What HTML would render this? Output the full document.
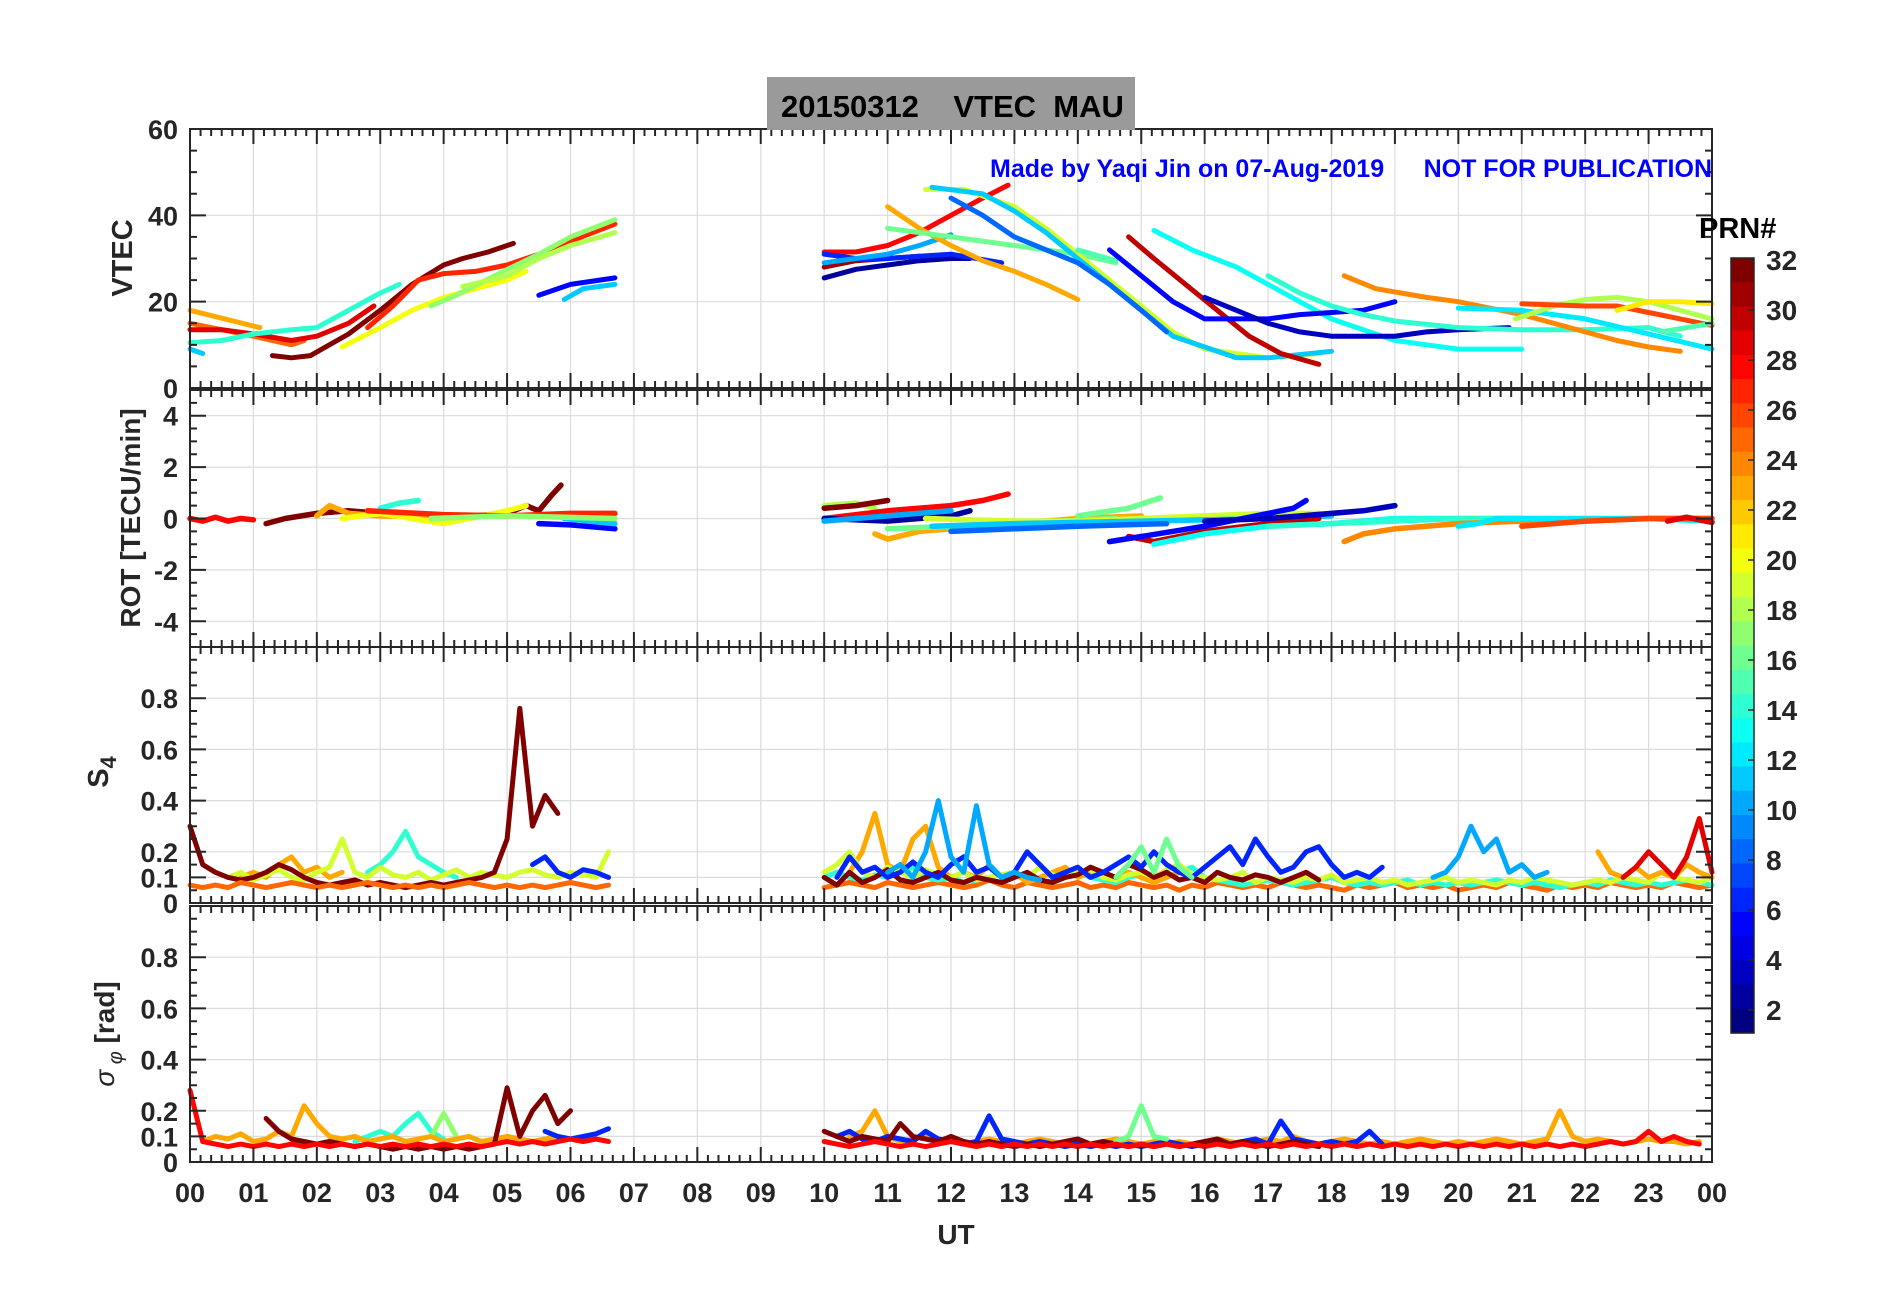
<!DOCTYPE html>
<html><head><meta charset="utf-8">
<style>
html,body{margin:0;padding:0;background:#fff;}
svg{display:block;font-family:"Liberation Sans",Arial,sans-serif;}
</style></head>
<body>
<svg id="fig" width="1902" height="1292" viewBox="0 0 1902 1292" xmlns="http://www.w3.org/2000/svg">
<rect width="1902" height="1292" fill="#fff"/>
<g id="grid"></g>
<g id="marks"></g>
<g id="axes"></g>
<rect x="767" y="77" width="368" height="53" fill="#9a9a9a"/>
<text x="781" y="117" font-size="31" font-weight="bold" fill="#000" xml:space="preserve">20150312    VTEC  MAU</text>
<text x="990" y="177" font-size="25" font-weight="bold" fill="#0000ff">Made by Yaqi Jin on 07-Aug-2019</text>
<text x="1712" y="177" font-size="25" font-weight="bold" fill="#0000ff" text-anchor="end">NOT FOR PUBLICATION</text>
<text transform="translate(132,258) rotate(-90)" font-size="29" font-weight="bold" fill="#262626" text-anchor="middle">VTEC</text>
<text transform="translate(140,518) rotate(-90)" font-size="28" font-weight="bold" fill="#262626" text-anchor="middle">ROT [TECU/min]</text>
<text transform="translate(108,772) rotate(-90)" font-size="29" font-weight="bold" fill="#262626" text-anchor="middle">S<tspan font-size="22" dy="8">4</tspan></text>
<text transform="translate(114,1034) rotate(-90)" font-size="28" font-weight="bold" fill="#262626" text-anchor="middle"><tspan font-style="italic" font-weight="normal">σ</tspan><tspan font-size="20" dy="8" font-style="italic" font-weight="normal"> φ</tspan><tspan dy="-8"> [rad]</tspan></text>
<text x="956" y="1244" font-size="28" font-weight="bold" fill="#262626" text-anchor="middle">UT</text>
<g id="cbar"></g>
<text x="1699" y="238" font-size="29" font-weight="bold" fill="#000">PRN#</text>
</svg>
<script>
// ---------------- data ----------------
const hourLabels = ["00","01","02","03","04","05","06","07","08","09","10","11","12","13","14","15","16","17","18","19","20","21","22","23","00"];
const vtecTicks = [0,20,40,60];
const rotTicks = [-4,-2,0,2,4];
const s4Ticks = [0,0.1,0.2,0.4,0.6,0.8];
const sigTicks = [0,0.1,0.2,0.4,0.6,0.8];
const cbarTicks = [2,4,6,8,10,12,14,16,18,20,22,24,26,28,30,32];

const vtecPrn = [23,25,29,14,11,32,27,20,17,18,5,11, 28,2,31,6,10,23,16,19,11,8,15,30,13,5,3,14,24,12,18,26,21,15];
const vtecHours = [
 [0,1.1],[0,0.5,1,1.6,1.8],[0,0.5,1,1.6,2,2.5,2.9],[0,0.5,1,1.6,2,2.5,3,3.3],[0,0.2],
 [1.3,1.6,1.9,2.5,3,3.5,4,4.3,4.7,5.1],[2.8,3.2,3.6,4,4.5,5,5.5,6,6.7],[2.4,3,3.5,4,4.5,5,5.3],
 [3.8,4.2,4.8,5.5,6,6.7],[4.3,5,5.5,6,6.7],[5.5,6,6.7],[5.9,6.2,6.7],
 [10,10.5,11,11.5,12,12.5,12.9],[10,10.5,11,11.5,12,12.3],[10,10.5,11,11.5],[10,10.5,11,11.5,12,12.8],
 [10,10.5,11,11.5,12],[11,11.5,12,12.5,13,13.5,14],[11,12,13,14,14.6],
 [11.6,12.2,13,13.5,14,14.5,15,15.5,16,17,17.8],[11.7,12.5,13,13.5,14,14.5,15,15.5,16.5,17,18],
 [12,12.5,13,14,14.5,15,15.4],[14,14.6],[14.8,15.2,15.7,16.2,16.7,17.2,17.8],
 [15.2,15.8,16.5,17,17.5,18,18.5,19,19.5,20,20.5,21],[14.5,15,15.5,16,16.5,17,17.5,18,18.5,19],
 [16,16.5,17,17.5,18,19,19.5,20,20.8],[17,17.5,18,18.5,19,20,21,22,23,23.5],
 [18.2,18.7,19.5,20,21,22,22.5,23,23.5],[20,21,22,23,24],[20.9,21.5,22,22.5,23,23.5,24],
 [21,22,22.5,23,23.5,24],[22.5,23,23.5,24],[23.2,24]
];
const vtecValues = [
 [18,14],[15,13.5,12,10,11],[13.5,13.5,12.5,11,12,15,19],[10.5,11,12.5,13.5,14,18,22,24],[9,8],
 [7.5,7,7.5,12.5,18,24,28.5,30,31.5,33.5],[14,19,25,26.5,27,28.5,31,34,38],[9.5,14,18,21,23,25,27],
 [19,21.5,26,31,35,39],[23.5,26,30,33,36],[21.5,24,25.5],[20.5,23,24],
 [31.5,31.5,33,36,40,44,47],[25.5,27.5,28.5,29.5,30,30],[28,29.5,30,30.5],[31,30,30,30.5,31,29],
 [29,30,31,33,35.5],[42,37,33,29.5,27,24,20.5],[37,35,33,31,29],
 [46,46,42,37,31,25,19,13,9,7,8],[46.5,45,41,36,30,24,18,12,7,7,8.5],
 [44,40,35,29,24,18,13],[32,29.5],[35,30,24,18,12,8,5.5],
 [36.5,32,28,24,20,16,13.5,11,10,9,9,9],[32,26,20,16,16,16,17,17.5,18,20],
 [21,18,15,13,12,12,13,13.5,14],[26,22,19,17,15.5,14,13.5,13.5,14,12],
 [26,23,21,20,17,13,11,9.5,8.5],[18.5,18,16,12.5,9],[16,19,20.5,21,20,18,16],
 [19.5,19,19,17.5,16,14.5],[18,20,20,19.5],[13,15]
];

const rotPrn = [28,32,23,14,20,27,5,11,17, 18,32,28,2,10,23,16,19,11,8,16,30,5,13,3,14,24,12,26,29];
const rotHours = [
 [0,0.2,0.4,0.6,0.8,1.0],[1.2,1.5,2,2.5,3,3.5,4,4.5,5,5.3,5.5,5.7,5.85],[2.0,2.2,2.5,3,4,5,6,6.7],
 [3,3.3,3.6],[2.4,3,4,5,5.3],[2.8,4,5,6,6.7],[5.5,6,6.7],[5.9,6.3,6.7],[3.8,5,6.7],
 [10,10.5,10.8],[10,10.5,11],[10,11,12,12.5,12.9],[10,11,12,12.3],[10,11,12],
 [10.8,11,11.5,12,13,14,15],[11,13,14.6],[11.6,13,14,15,16,17,17.8],[11.7,13,15,17,18],
 [12,13,14,15.4],[14,14.8,15.3],[14.8,15.2,16,17,17.8],[14.5,15,16,17,17.4,17.6],
 [15.2,16,17,18,19,20,21],[16,17,18,18.5,19],[17,18,19,20,21],[18.2,18.5,19,20,21,22,23,24],
 [20,20.3,20.6,21,22,23,24],[21,21.5,22,23,24],[23.3,23.6,24]
];
const rotValues = [
 [0,-0.1,0.05,-0.1,0,-0.05],[-0.2,0,0.2,0.3,0.2,0.15,0.1,0.1,0.2,0.5,0.3,0.9,1.3],[0.1,0.5,0.2,0.1,0.05,0.1,0.15,0.2],
 [0.4,0.6,0.7],[0,0.2,-0.2,0.3,0.5],[0.3,0.15,0.1,0.2,0.2],[-0.2,-0.25,-0.4],[0,-0.1,-0.2],[0,0.1,0],
 [0.5,0.6,0.4],[0.4,0.5,0.7],[0,0.3,0.5,0.7,0.95],[0,-0.1,0.1,0.3],[-0.1,0.1,0.3],
 [-0.6,-0.8,-0.5,-0.4,-0.2,0,0.1],[-0.4,-0.2,0],[0,-0.1,-0.1,0,0.1,0.2,0.2],[-0.3,-0.2,-0.1,0,0.1],
 [-0.5,-0.4,-0.3,-0.2],[0.1,0.4,0.8],[-0.7,-0.9,-0.5,-0.2,0],[-0.9,-0.7,-0.3,0.2,0.4,0.7],
 [-1,-0.6,-0.3,-0.2,0,0,0],[-0.1,0,0.2,0.3,0.5],[-0.3,-0.2,-0.1,0,0],[-0.9,-0.6,-0.4,-0.2,-0.1,-0.1,0,0],
 [-0.3,-0.2,0,0,0,0,-0.1],[-0.3,-0.2,-0.1,0,0],[-0.1,0.05,-0.15]
];

// S4: series sampled every 0.2 h from a start hour
const s4Prn = [14,23,19,32,6,25,14,23,19,32,6,10,10,16,23,29];
const s4Start = [2.8,0.8,0.6,0,5.4,0,10,10.4,10,10,10.2,11,19.6,14.6,22.2,22.6];
const s4Values = [
 [0.12,0.15,0.2,0.28,0.18,0.15,0.12,0.1],
 [0.1,0.12,0.1,0.15,0.18,0.12,0.14,0.1,0.12],
 [0.1,0.12,0.09,0.11,0.13,0.1,0.09,0.12,0.14,0.25,0.12,0.1,0.14,0.11,0.1,0.12,0.09,0.11,0.13,0.1,0.12,0.11,0.1,0.12,0.13,0.11,0.1,0.12,0.11,0.1,0.2],
 [0.3,0.15,0.12,0.1,0.09,0.1,0.12,0.15,0.13,0.1,0.08,0.07,0.08,0.09,0.07,0.08,0.07,0.06,0.07,0.08,0.07,0.08,0.09,0.1,0.12,0.25,0.76,0.3,0.42,0.35],
 [0.15,0.18,0.12,0.1,0.13,0.12,0.1],
 [0.07,0.06,0.07,0.06,0.08,0.07,0.06,0.07,0.08,0.07,0.06,0.07,0.06,0.07,0.08,0.07,0.06,0.07,0.06,0.07,0.06,0.07,0.08,0.07,0.06,0.07,0.06,0.07,0.06,0.07,0.08,0.07,0.06,0.07],
 [0.1,0.12,0.1,0.09,0.11,0.1,0.12,0.14,0.1,0.09,0.1,0.08,0.09,0.1,0.11,0.12,0.1,0.09,0.08,0.1,0.12,0.1,0.09,0.08,0.1,0.11,0.09,0.1,0.12,0.14,0.1,0.09,0.08,0.07,0.08,0.09,0.08,0.07,0.08,0.09,0.1,0.08,0.07,0.08,0.07,0.08,0.09,0.07,0.08,0.07,0.08,0.07,0.08,0.09,0.08,0.07,0.08,0.07,0.06,0.07,0.08,0.07,0.09,0.08,0.07,0.08,0.07,0.08,0.09,0.08,0.07],
 [0.12,0.2,0.35,0.15,0.12,0.25,0.3,0.14,0.1,0.12,0.1,0.15,0.1,0.12,0.08,0.1,0.12,0.14,0.1,0.12,0.1,0.09,0.12,0.1,0.08,0.1,0.12,0.1],
 [0.12,0.15,0.2,0.12,0.1,0.14,0.12,0.1,0.13,0.11,0.1,0.12,0.09,0.1,0.11,0.12,0.1,0.14,0.11,0.1,0.12,0.13,0.1,0.09,0.11,0.12,0.1,0.13,0.15,0.11,0.1,0.09,0.1,0.12,0.08,0.1,0.09,0.08,0.1,0.09,0.11,0.08,0.09,0.1,0.08,0.09,0.07,0.08,0.09,0.1,0.08,0.09,0.08,0.07,0.09,0.08,0.1,0.09,0.08,0.07,0.08,0.09,0.08,0.1,0.09,0.08,0.12,0.1,0.09,0.08,0.1],
 [0.1,0.07,0.12,0.08,0.1,0.13,0.09,0.08,0.1,0.12,0.09,0.08,0.1,0.09,0.08,0.1,0.12,0.09,0.08,0.1,0.11,0.14,0.12,0.1,0.15,0.13,0.1,0.12,0.09,0.1,0.08,0.12,0.1,0.09,0.11,0.1,0.08,0.1,0.12,0.09],
 [0.1,0.18,0.12,0.14,0.1,0.12,0.16,0.12,0.1,0.15,0.18,0.12,0.14,0.1,0.12,0.2,0.15,0.1,0.12,0.14,0.1,0.12,0.15,0.18,0.14,0.2,0.15,0.12,0.1,0.14,0.18,0.22,0.15,0.25,0.18,0.12,0.14,0.2,0.22,0.15,0.1,0.12,0.1,0.14],
 [0.12,0.15,0.1,0.2,0.4,0.18,0.12,0.38,0.15,0.1,0.12,0.1,0.09],
 [0.1,0.12,0.18,0.3,0.2,0.25,0.12,0.15,0.1,0.12],
 [0.1,0.15,0.22,0.12,0.25,0.14,0.1],
 [0.2,0.12,0.1,0.14,0.1,0.12,0.1,0.15,0.12,0.1],
 [0.1,0.14,0.2,0.15,0.1,0.18,0.33,0.12]
];
const s4BasePrn = [25];
const s4BaseStart = [10];
const s4BaseValues = [
 [0.06,0.07,0.08,0.07,0.06,0.08,0.07,0.06,0.07,0.08,0.07,0.06,0.07,0.09,0.07,0.06,0.08,0.07,0.06,0.07,0.08,0.06,0.07,0.06,0.08,0.07,0.06,0.07,0.05,0.07,0.06,0.08,0.07,0.06,0.07,0.06,0.08,0.07,0.06,0.07,0.06,0.05,0.07,0.06,0.07,0.08,0.06,0.07,0.06,0.07,0.05,0.06,0.07,0.06,0.08,0.07,0.06,0.05,0.07,0.06,0.07,0.06,0.08,0.07,0.06,0.07,0.06,0.08,0.07,0.06,0.07]
];

const sigPrn = [14,17,23,6,32,28,23,6,32,16,28];
const sigStart = [2.6,3.8,0.2,5.6,1.2,0,10.4,10.2,10,14.6,10];
const sigValues = [
 [0.08,0.1,0.12,0.1,0.15,0.19,0.12,0.09],
 [0.1,0.19,0.1],
 [0.08,0.1,0.09,0.11,0.08,0.09,0.12,0.1,0.22,0.15,0.1,0.09,0.1,0.08,0.09,0.1,0.08,0.09,0.1,0.08,0.09,0.1,0.08,0.09,0.1,0.09,0.08,0.09,0.1,0.09,0.08,0.09],
 [0.12,0.1,0.09,0.1,0.11,0.13],
 [0.17,0.12,0.09,0.08,0.07,0.08,0.07,0.06,0.07,0.06,0.05,0.06,0.05,0.06,0.05,0.06,0.05,0.06,0.07,0.29,0.1,0.2,0.26,0.15,0.2],
 [0.28,0.08,0.07,0.06,0.07,0.06,0.07,0.06,0.07,0.06,0.07,0.06,0.07,0.06,0.07,0.06,0.07,0.06,0.07,0.06,0.07,0.06,0.07,0.06,0.07,0.08,0.07,0.08,0.07,0.08,0.09,0.08,0.09,0.08],
 [0.1,0.12,0.2,0.1,0.08,0.09,0.1,0.08,0.09,0.07,0.08,0.09,0.08,0.07,0.08,0.09,0.08,0.07,0.08,0.07,0.08,0.09,0.08,0.07,0.08,0.07,0.08,0.07,0.08,0.09,0.08,0.07,0.08,0.09,0.08,0.1,0.08,0.07,0.08,0.09,0.08,0.07,0.08,0.07,0.08,0.09,0.08,0.07,0.08,0.07,0.08,0.09,0.08,0.07,0.08,0.09,0.2,0.1,0.08,0.09,0.08,0.07,0.08,0.09,0.08,0.08,0.07,0.08],
 [0.1,0.12,0.09,0.08,0.1,0.09,0.08,0.12,0.09,0.08,0.07,0.08,0.18,0.09,0.08,0.07,0.08,0.07,0.06,0.07,0.06,0.07,0.06,0.07,0.06,0.07,0.08,0.07,0.06,0.07,0.08,0.07,0.08,0.09,0.07,0.16,0.09,0.08,0.07,0.08,0.07,0.08,0.12,0.07],
 [0.12,0.1,0.08,0.1,0.09,0.08,0.15,0.1,0.09,0.08,0.1,0.08,0.07,0.08,0.07,0.06,0.07,0.06,0.07,0.08,0.09,0.07,0.08,0.07,0.06,0.07,0.06,0.07,0.06,0.07,0.08,0.09,0.07,0.08,0.07,0.06,0.07,0.08,0.07,0.06],
 [0.08,0.1,0.22,0.1,0.09],
 [0.08,0.07,0.06,0.07,0.08,0.07,0.06,0.07,0.06,0.07,0.08,0.07,0.06,0.07,0.06,0.07,0.06,0.07,0.06,0.07,0.06,0.07,0.06,0.07,0.06,0.07,0.06,0.07,0.06,0.07,0.06,0.07,0.06,0.07,0.06,0.07,0.06,0.07,0.06,0.07,0.06,0.07,0.06,0.07,0.06,0.07,0.06,0.07,0.06,0.07,0.06,0.07,0.06,0.07,0.06,0.07,0.06,0.07,0.06,0.07,0.06,0.07,0.08,0.07,0.08,0.12,0.08,0.1,0.08,0.07]
];

// ---------------- layout ----------------
const NS = "http://www.w3.org/2000/svg";
const X0 = 190, X1 = 1712;
const panels = [
 {key:"vtec", top:129, bottom:388, min:0, max:60, minor:5, ticks:vtecTicks},
 {key:"rot", top:390, bottom:647, min:-5, max:5, minor:0.5, ticks:rotTicks},
 {key:"s4", top:647, bottom:903, min:0, max:1, minor:0.05, ticks:s4Ticks},
 {key:"sigma", top:906, bottom:1162, min:0, max:1, minor:0.05, ticks:sigTicks}
];
function xScale(h){ return X0 + (X1 - X0) * h / 24; }
function yScale(p, v){ return p.bottom - (v - p.min) / (p.max - p.min) * (p.bottom - p.top); }
function jet(prn){
  const t = (prn - 1) / 31;
  const c = v => Math.round(255 * Math.max(0, Math.min(1, v)));
  return "rgb(" + c(1.5 - Math.abs(4*t - 3)) + "," + c(1.5 - Math.abs(4*t - 2)) + "," + c(1.5 - Math.abs(4*t - 1)) + ")";
}
function mk(tag, attrs, parent){
  const e = document.createElementNS(NS, tag);
  for (const k in attrs) e.setAttribute(k, attrs[k]);
  parent.appendChild(e);
  return e;
}
const gGrid = document.getElementById("grid");
const gMarks = document.getElementById("marks");
const gAxes = document.getElementById("axes");
const gCbar = document.getElementById("cbar");

panels.forEach(p => {
  for (let h = 1; h < 24; h++) {
    const l = mk("line", {x1:xScale(h), x2:xScale(h), y1:p.top, y2:p.bottom, stroke:"#dcdcdc", "stroke-width":1.2}, gGrid);
    
    
  }
  p.ticks.forEach(v => {
    if (v === p.min || v === p.max) return;
    const l = mk("line", {x1:X0, x2:X1, y1:yScale(p,v), y2:yScale(p,v), stroke:"#dcdcdc", "stroke-width":1.2}, gGrid);
    
    
  });
  const frame = mk("rect", {x:X0, y:p.top, width:X1-X0, height:p.bottom-p.top, fill:"none", stroke:"#262626", "stroke-width":2}, gAxes);
  
  
  let d = "";
  for (let m = 0; m <= 24*6; m++) {
    const x = xScale(m/6), len = (m % 6 === 0) ? 15 : 7;
    d += "M" + x + " " + p.bottom + "v" + (-len) + "M" + x + " " + p.top + "v" + len;
  }
  const nMinor = Math.round((p.max - p.min) / p.minor);
  for (let i = 0; i <= nMinor; i++) {
    const v = p.min + i * p.minor;
    const major = p.ticks.some(t => Math.abs(t - v) < 1e-9);
    const y = yScale(p, v), len = major ? 16 : 7;
    d += "M" + X0 + " " + y + "h" + len + "M" + X1 + " " + y + "h" + (-len);
  }
  const tk = mk("path", {d:d, stroke:"#262626", "stroke-width":2, fill:"none"}, gAxes);
  
  
  p.ticks.forEach(v => {
    const t = mk("text", {x:178, y:yScale(p,v)+10, "font-size":27, "font-weight":"bold", fill:"#262626", "text-anchor":"end"}, gAxes);
    t.textContent = String(v);
    
    
  });
});
hourLabels.forEach((s, i) => {
  const t = mk("text", {x:xScale(i), y:1202, "font-size":27, "font-weight":"bold", fill:"#262626", "text-anchor":"middle"}, gAxes);
  t.textContent = s;
  
  
});

function drawXY(p, prns, hours, vals, width, name){
  prns.forEach((prn, i) => {
    const pts = hours[i].map((h, j) => xScale(h).toFixed(1) + "," + yScale(p, vals[i][j]).toFixed(1)).join(" ");
    const pl = mk("polyline", {points:pts, fill:"none", stroke:jet(prn), "stroke-width":width, "stroke-linejoin":"round", "stroke-linecap":"round"}, gMarks);
    
    
  });
}
function drawStep(p, prns, starts, vals, width, name){
  prns.forEach((prn, i) => {
    const pts = vals[i].map((v, j) => xScale(starts[i] + 0.2*j).toFixed(1) + "," + yScale(p, v).toFixed(1)).join(" ");
    const pl = mk("polyline", {points:pts, fill:"none", stroke:jet(prn), "stroke-width":width, "stroke-linejoin":"round", "stroke-linecap":"round"}, gMarks);
    
    
  });
}
drawXY(panels[0], vtecPrn, vtecHours, vtecValues, 5, 'vtec-line');
drawXY(panels[1], rotPrn, rotHours, rotValues, 5.5, 'rot-line');
drawStep(panels[2], s4BasePrn, s4BaseStart, s4BaseValues, 5, 's4-base-line');
drawStep(panels[2], s4Prn, s4Start, s4Values, 5, 's4-line');
drawStep(panels[3], sigPrn, sigStart, sigValues, 5, 'sigma-line');

const CB_X = 1731, CB_W = 23, CB_TOP = 258, CB_BOT = 1033;
const blockH = (CB_BOT - CB_TOP) / 32;
for (let k = 0; k < 32; k++) {
  const prn = 32 - k;
  const r = mk("rect", {x:CB_X, y:CB_TOP + k*blockH, width:CB_W, height:blockH+0.6, fill:jet(prn)}, gCbar);
  
  
}
const cbf = mk("rect", {x:CB_X, y:CB_TOP, width:CB_W, height:CB_BOT-CB_TOP, fill:"none", stroke:"#262626", "stroke-width":1.5}, gCbar);


function cbY(v){ return 1010 - (v - 2) * 25; }
cbarTicks.forEach(v => {
  const tl = mk("line", {x1:CB_X+CB_W-6, x2:CB_X+CB_W, y1:cbY(v), y2:cbY(v), stroke:"#262626", "stroke-width":1.5}, gCbar);
  
  
  const t = mk("text", {x:1766, y:cbY(v)+10, "font-size":28, "font-weight":"bold", fill:"#262626"}, gCbar);
  t.textContent = String(v);
  
  
});
</script>
</body></html>
